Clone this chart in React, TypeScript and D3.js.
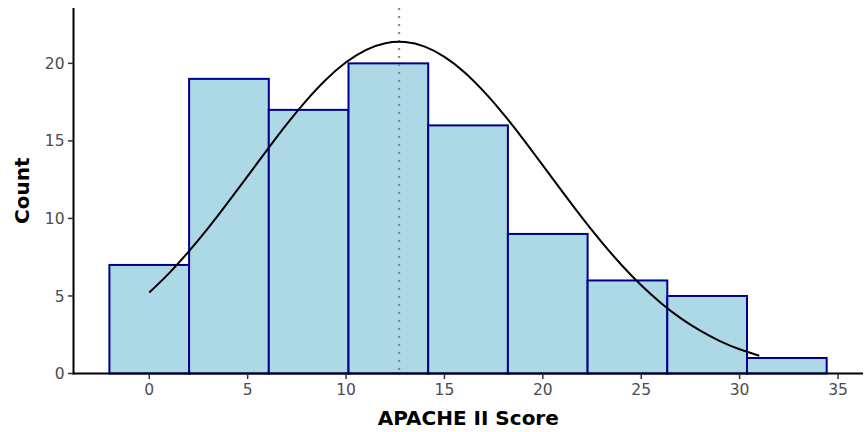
import React from "react";
import * as d3 from "d3";

// Histogram bins (centres and counts) for APACHE II scores
const binCenters = [0, 4.05, 8.1, 12.15, 16.2, 20.25, 24.3, 28.35, 32.4];
const binCounts = [7, 19, 17, 20, 16, 9, 6, 5, 1];
const binWidth = 4.05;

// Fitted normal curve, scaled to counts
const curveX = [0, 1, 2, 3, 4, 5, 6, 7, 8, 9, 10, 11, 12, 13, 14, 15, 16, 17, 18, 19, 20, 21, 22, 23, 24, 25, 26, 27, 28, 29, 30, 31];
const curveY = [
  5.22, 6.46, 7.86, 9.39, 11.03, 12.73, 14.44, 16.1, 17.63, 18.98, 20.07, 20.86, 21.3, 21.37, 21.08, 20.42,
  19.45, 18.19, 16.73, 15.12, 13.42, 11.71, 10.04, 8.46, 7.0, 5.69, 4.55, 3.57, 2.76, 2.09, 1.56, 1.14,
];

const meanScore = 12.7;

const xTicks = [0, 5, 10, 15, 20, 25, 30, 35];
const yTicks = [0, 5, 10, 15, 20];

const W = 867;
const H = 432;
const left = 73.5;
const right = 863;
const top = 8;
const bottom = 373.5;

export default function App() {
  const x = d3.scaleLinear().domain([-3.85, 36.27]).range([left, right]);
  const y = d3.scaleLinear().domain([0, 23.57]).range([bottom, top]);

  const line = d3
    .line<number>()
    .x((_, i) => x(curveX[i]))
    .y((d) => y(d))
    .curve(d3.curveNatural);

  const font = "'DejaVu Sans', sans-serif";

  return (
    <svg
      width={W}
      height={H}
      style={{ position: "absolute", left: 0, top: 0, background: "#fff" }}
      fontFamily={font}
    >
      {binCenters.map((c, i) => (
        <rect
          key={i}
          x={x(c - binWidth / 2)}
          y={y(binCounts[i])}
          width={x(c + binWidth / 2) - x(c - binWidth / 2)}
          height={y(0) - y(binCounts[i])}
          fill="#ADD8E6"
          stroke="#00008B"
          strokeWidth={2}
        />
      ))}

      <line
        x1={x(meanScore)}
        x2={x(meanScore)}
        y1={top}
        y2={bottom}
        stroke="#808080"
        strokeWidth={2}
        strokeDasharray="2 6"
      />

      <path d={line(curveY) || ""} fill="none" stroke="#000" strokeWidth={2} />

      {/* axes */}
      <line x1={left} x2={left} y1={top} y2={bottom + 1} stroke="#000" strokeWidth={2} />
      <line x1={left - 1} x2={right} y1={bottom} y2={bottom} stroke="#000" strokeWidth={2} />

      {xTicks.map((t) => (
        <g key={t} transform={`translate(${x(t)},0)`}>
          <line y1={bottom} y2={bottom + 5.5} stroke="#333" strokeWidth={1.5} />
          <text y={bottom + 21.5} textAnchor="middle" fontSize={15.5} fill="#4D4D4D">
            {t}
          </text>
        </g>
      ))}

      {yTicks.map((t) => (
        <g key={t} transform={`translate(0,${y(t)})`}>
          <line x1={left - 5.5} x2={left} stroke="#333" strokeWidth={1.5} />
          <text x={left - 9} dy="0.36em" textAnchor="end" fontSize={15.5} fill="#4D4D4D">
            {t}
          </text>
        </g>
      ))}

      <text
        x={(left + right) / 2}
        y={425}
        textAnchor="middle"
        fontSize={20}
        fontWeight="bold"
        fill="#000"
      >
        APACHE II Score
      </text>
      <text
        transform={`translate(28.5,${(top + bottom) / 2}) rotate(-90)`}
        textAnchor="middle"
        fontSize={20}
        fontWeight="bold"
        fill="#000"
      >
        Count
      </text>
    </svg>
  );
}
